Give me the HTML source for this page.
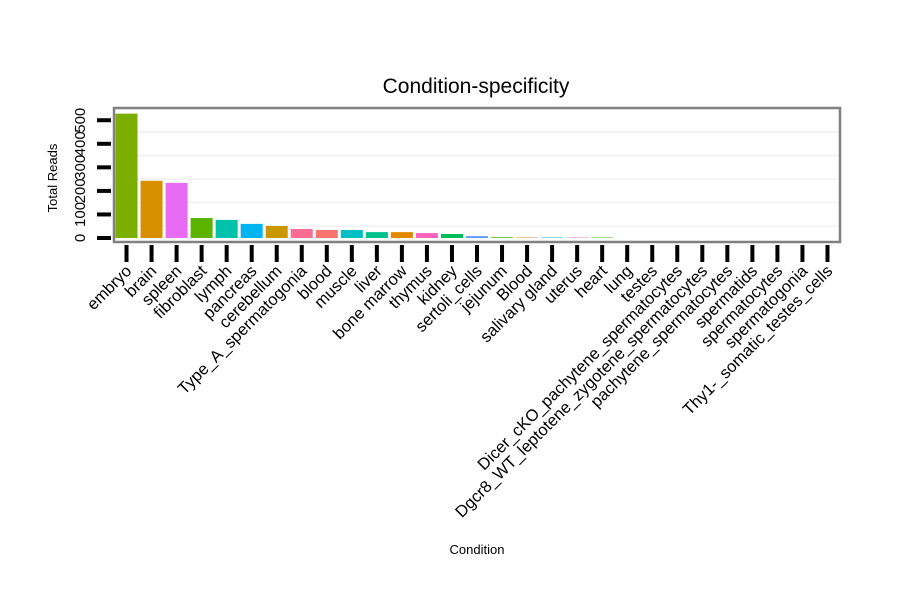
<!DOCTYPE html>
<html><head><meta charset="utf-8">
<style>
html,body{margin:0;padding:0;background:#fff;}
svg text{font-family:"Liberation Sans",sans-serif;}
</style></head>
<body>
<svg id="chart" width="900" height="600" viewBox="0 0 900 600">
<rect width="900" height="600" fill="#fff"/>
<text x="476" y="93" font-size="21" text-anchor="middle" fill="#000">Condition-specificity</text>
<text transform="translate(57,178) rotate(-90)" font-size="13" text-anchor="middle" fill="#000">Total Reads</text>
<text x="477" y="554" font-size="13" text-anchor="middle" fill="#000">Condition</text>
<g id="plot"></g>
</svg>
<script>
const categories = ["embryo","brain","spleen","fibroblast","lymph","pancreas","cerebellum","Type_A_spermatogonia","blood","muscle","liver","bone marrow","thymus","kidney","sertoli_cells","jejunum","Blood","salivary gland","uterus","heart","lung","testes","Dicer_cKO_pachytene_spermatocytes","Dgcr8_WT_leptotene_zygotene_spermatocytes","pachytene_spermatocytes","spermatids","spermatocytes","spermatogonia","Thy1-_somatic_testes_cells"];
const values = [528,243,234,85,77,60,51,38,34,34,25,25,21,17,8,3,2,2,2,2,0,0,0,0,0,0,0,0,0];
const colors = ["#7CAE00","#D89000","#E76BF3","#5BB300","#00C1AA","#00B4EF","#C99800","#FF6C91","#F8766D","#00BFC4","#00C08B","#E38900","#FF62BC","#00BD5C","#619CFF","#39B600","#EA8331","#00A9FF","#F17CB0","#39B600","#999","#999","#999","#999","#999","#999","#999","#999","#999"];
const yTicks = [0,100,200,300,400,500];
const yMinor = [50,150,250,350,450,550];

const NS="http://www.w3.org/2000/svg";
const g=document.getElementById('plot');
const px0=114, px1=840, pyTop=108, pyBase=238;
const band=(px1-px0)/categories.length;
function xPos(i){return px0+band*(i+0.5);}
function yPos(v){return pyBase - v*0.2355;}
function mk(tag,attrs){const e=document.createElementNS(NS,tag);for(const k in attrs)e.setAttribute(k,attrs[k]);g.appendChild(e);return e;}

mk('rect',{x:px0,y:pyTop,width:px1-px0,height:242-pyTop,fill:'#fff'});
yMinor.forEach(v=>{const y=yPos(v);if(y>pyTop){const l=mk('line',{x1:px0,x2:px1,y1:y,y2:y,stroke:'#f3f3f3','stroke-width':2});

}});
values.forEach((v,i)=>{
  const r=mk('rect',{x:xPos(i)-11,y:yPos(v),width:22,height:Math.max(0,pyBase-yPos(v)),fill:colors[i]});
  
  
});
const border=mk('rect',{x:px0,y:pyTop,width:px1-px0,height:242-pyTop,fill:'none',stroke:'#808080','stroke-width':2.5});


yTicks.forEach(v=>{
  const y=yPos(v);
  const t=mk('line',{x1:97,x2:111,y1:y,y2:y,stroke:'#000','stroke-width':4});
  
  
  const tx=mk('text',{transform:`translate(85,${y}) rotate(-90)`,'font-size':15,'text-anchor':'middle',fill:'#000'});
  tx.textContent=String(v);
  
  
});
categories.forEach((c,i)=>{
  const x=xPos(i);
  const t=mk('line',{x1:x,x2:x,y1:245,y2:262,stroke:'#000','stroke-width':4});
  
  
  const tx=mk('text',{transform:`translate(${x+6},${272}) rotate(-45)`,'font-size':16.5,'text-anchor':'end',fill:'#000'});
  tx.textContent=c;
  
  
});
</script>
</body></html>
